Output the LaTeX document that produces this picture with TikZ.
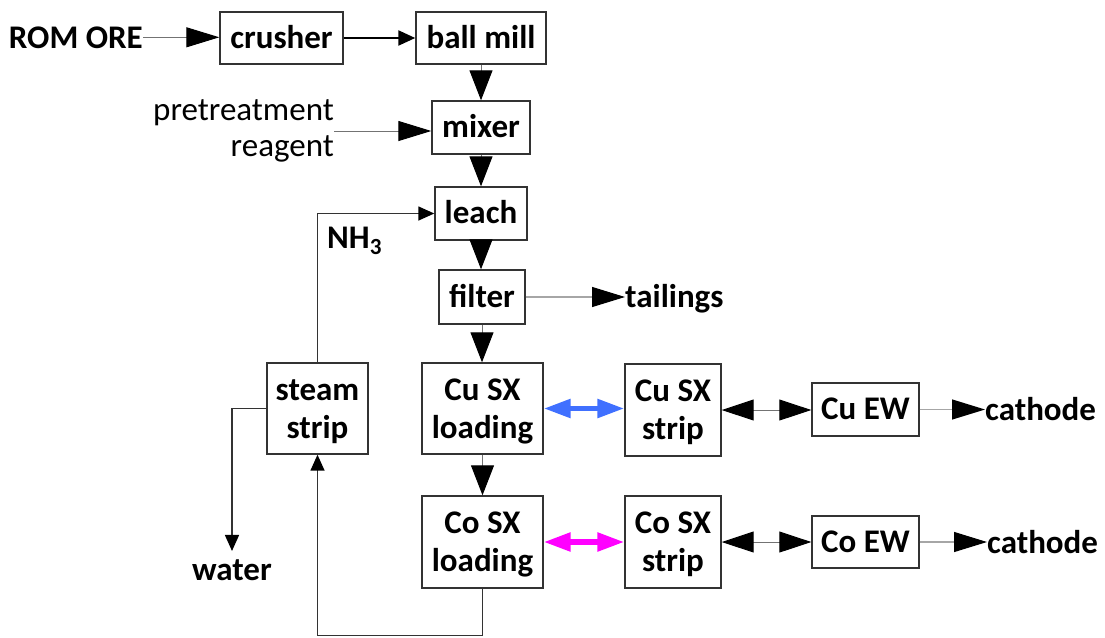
\documentclass[tikz,border=0pt]{standalone}
\usepackage{fontspec}
\setmainfont{Carlito}
\usetikzlibrary{arrows.meta}
\definecolor{cublue}{RGB}{64,112,255}
\definecolor{comag}{RGB}{255,0,255}
\newcommand{\topstrut}{\rule{0pt}{27pt}}
\begin{document}
\begin{tikzpicture}[x=1pt,y=-1pt,
  box/.style={draw=black!80, line width=1.4pt, font=\fontsize{33}{38}\selectfont\bfseries, align=center, inner sep=0pt},
  one/.style={text height=22pt, text depth=2pt},
  lbl/.style={font=\fontsize{33}{38}\selectfont\bfseries, inner sep=0pt},
  thinl/.style={draw=black!55, line width=1pt},
  lightl/.style={draw=black!35, line width=1.2pt},
  loopl/.style={draw=black!80, line width=1.5pt},
  bighead/.style={-{Triangle[length=33pt,width=20pt,color=black]}},
  vhead/.style={-{Triangle[length=30pt,width=23pt,color=black]}},
  smallhead/.style={-{Triangle[length=16pt,width=14pt,color=black]}},
  dblhead/.style={{Triangle[length=32pt,width=21pt,color=black]}-{Triangle[length=32pt,width=21pt,color=black]}},
  colhead/.style={{Triangle[length=27pt,width=18pt]}-{Triangle[length=27pt,width=18pt]}}
]
\useasboundingbox (0,0) rectangle (1105,637);
% boxes
\node[box,one,minimum width=123pt,minimum height=52pt] (crusher) at (281.5,38) {crusher};
\node[box,one,minimum width=130pt,minimum height=52pt] (ballmill) at (481,38) {ball mill};
\node[box,one,minimum width=98pt,minimum height=53pt] (mixer) at (481,127.5) {mixer};
\node[box,one,minimum width=92pt,minimum height=53pt] (leach) at (481,213.5) {leach};
\node[box,one,minimum width=86pt,minimum height=54pt] (filter) at (482,297) {filter};
\node[box,minimum width=101pt,minimum height=91pt] (steam) at (317.5,408.5) {\topstrut steam\\strip};
\node[box,minimum width=121pt,minimum height=91pt] (cul) at (482.5,408.5) {\topstrut Cu SX\\loading};
\node[box,minimum width=121pt,minimum height=92pt] (col) at (482.5,542) {\topstrut Co SX\\loading};
\node[box,minimum width=96pt,minimum height=92pt] (cus) at (673,410) {\topstrut Cu SX\\strip};
\node[box,minimum width=96pt,minimum height=92pt] (cos) at (673,542) {\topstrut Co SX\\strip};
\node[box,one,minimum width=107pt,minimum height=53pt] (cuew) at (865.5,409.5) {Cu EW};
\node[box,one,minimum width=107pt,minimum height=52pt] (coew) at (865.5,542) {Co EW};
% labels
\node[lbl,anchor=base east] (rom) at (143,48) {ROM ORE};
\node[font=\fontsize{33}{36}\selectfont, inner sep=0pt, align=right, anchor=east] (pre) at (334,131) {pretreatment\\reagent};
\node[lbl,anchor=base west] (nh3) at (327,248) {NH\textsubscript{3}};
\node[lbl,anchor=base west] (tail) at (625,307) {tailings};
\node[lbl,anchor=base west] (cat1) at (985,420) {cathode};
\node[lbl,anchor=base west] (cat2) at (987,553) {cathode};
\node[lbl,anchor=base] (water) at (232,580) {water};
% connectors
\draw[thinl,bighead] (rom.east) -- (rom.east -| crusher.west);
\draw[draw=black,line width=2.2pt,-{Triangle[length=17pt,width=15pt]}] (crusher.east) -- (ballmill.west);
\draw[thinl,vhead] (ballmill.south) -- (mixer.north);
\draw[thinl,bighead] (pre.east) -- (pre.east -| mixer.west);
\draw[thinl,vhead] (mixer.south) -- (leach.north);
\draw[thinl,vhead] (leach.south) -- (leach.south |- filter.north);
\draw[lightl,bighead] (filter.east) -- (filter.east -| tail.west);
\draw[thinl,vhead] (filter.south) -- (filter.south |- cul.north);
\draw[thinl,vhead] (cul.south) -- (col.north);
\draw[loopl,smallhead] (col.south) -- ++(0,47) -| (steam.south);
\draw[loopl,smallhead] (steam.north) |- (leach.west);
\draw[loopl,smallhead,shorten >=8pt] (steam.west) -| (water.north);
\draw[cublue,line width=5.5pt,colhead] (cul.east) -- (cul.east -| cus.west);
\draw[comag,line width=5.5pt,colhead] (col.east) -- (col.east -| cos.west);
\draw[thinl,dblhead] (cus.east) -- (cus.east -| cuew.west);
\draw[thinl,dblhead] (cos.east) -- (cos.east -| coew.west);
\draw[lightl,bighead] (cuew.east) -- (cuew.east -| cat1.west);
\draw[lightl,bighead] (coew.east) -- (coew.east -| cat2.west);
\end{tikzpicture}
\end{document}
